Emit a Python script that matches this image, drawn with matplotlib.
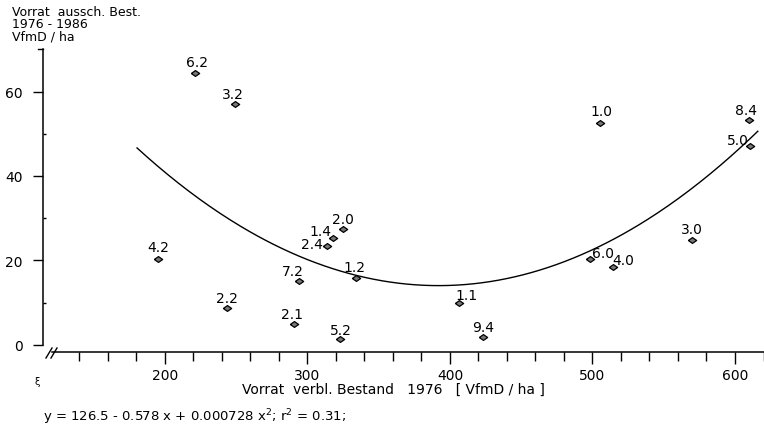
import numpy as np
import matplotlib
matplotlib.use("Agg")
import matplotlib.pyplot as plt
from matplotlib.lines import Line2D

# ---- data ----
labels = ["6.2", "3.2", "4.2", "2.2", "2.1", "5.2", "7.2", "1.2", "2.4", "1.4",
          "2.0", "1.1", "9.4", "1.0", "8.4", "5.0", "3.0", "6.0", "4.0"]
x_vals = [221.1, 249.1, 195.1, 243.5, 290.5, 322.8, 294.0, 334.0, 313.7, 317.9,
          324.9, 406.3, 423.2, 505.3, 609.8, 610.5, 569.8, 498.2, 514.4]
y_vals = [64.4, 57.0, 20.4, 8.8, 5.0, 1.4, 15.1, 15.9, 23.4, 25.3,
          27.5, 9.9, 1.9, 52.5, 53.3, 47.1, 24.9, 20.4, 18.5]
# quadratic curve as drawn (coefficients a, b, c) and its x range
curve_coef = [125.9, -0.5707, 0.000728]
curve_range = [180.4, 616.0]
x_ticks_major = [200, 300, 400, 500, 600]
y_ticks_major = [0, 20, 40, 60]

# ---- label offsets (pixels: dx, dy up) ----
label_offsets = {"6.2": (2, 11), "3.2": (-2, 10), "4.2": (0, 12), "2.2": (0, 10),
                 "2.1": (-2, 10), "5.2": (1, 9), "7.2": (-6, 10), "1.2": (-2, 11),
                 "2.4": (-15, 2), "1.4": (-13, 7), "2.0": (0, 10), "1.1": (8, 8),
                 "9.4": (0, 10), "1.0": (1, 12), "8.4": (-3, 10), "5.0": (-12, 6),
                 "3.0": (0, 11), "6.0": (13, 6), "4.0": (10, 7)}

plt.rcParams["font.family"] = ["DejaVu Sans"]

W, H = 764, 427
fig = plt.figure(figsize=(W / 100, H / 100), dpi=100)

def fx(px):
    return px / W

def fy(py):
    return 1 - py / H

ax_l, ax_r, ax_t, ax_b = 43, 764, 50, 353
ax = fig.add_axes([fx(ax_l), fy(ax_b), (ax_r - ax_l) / W, (ax_b - ax_t) / H])
ax.set_xlim(114.4, 620.35)
ax.set_ylim(-1.66, 70.06)
ax.patch.set_alpha(0)

for s in ["top", "right"]:
    ax.spines[s].set_visible(False)
ax.spines["left"].set_bounds(0, 70)
ax.spines["bottom"].set_bounds(120.7, 620.35)
ax.spines["left"].set_linewidth(1.1)
ax.spines["bottom"].set_linewidth(1.1)

# x ticks
ax.set_xticks(x_ticks_major)
ax.set_xticklabels([str(v) for v in x_ticks_major])
ax.set_xticks(np.arange(140, 621, 20), minor=True)
ax.tick_params(axis="x", which="major", direction="out", length=8.5, width=1, pad=3, labelsize=10)
ax.tick_params(axis="x", which="minor", direction="out", length=6.5, width=1)

# y ticks
ax.set_yticks(y_ticks_major)
ax.set_yticklabels([str(v) for v in y_ticks_major])
ax.set_yticks([10, 30, 50], minor=True)
ax.tick_params(axis="y", which="major", direction="out", length=7.5, width=1, pad=7, labelsize=10)
ax.tick_params(axis="y", which="minor", direction="in", length=2.5, width=1)
# short tick at top of y axis
ax.plot([0, -5.0 / 721], [1.0, 1.0], transform=ax.transAxes, color="black", lw=1, clip_on=False)

# curve
xc = np.linspace(curve_range[0], curve_range[1], 300)
yc = curve_coef[0] + curve_coef[1] * xc + curve_coef[2] * xc ** 2
ax.plot(xc, yc, color="black", lw=1.0)

# markers (flattened diamond)
diamond = [(-1, 0), (0, 0.7), (1, 0), (0, -0.7), (-1, 0)]
ax.plot(x_vals, y_vals, linestyle="none", marker=diamond, markersize=6,
        markerfacecolor="#777777", markeredgecolor="black", markeredgewidth=0.9)

for lab, xv, yv in zip(labels, x_vals, y_vals):
    dx, dy = label_offsets[lab]
    ax.annotate(lab, (xv, yv), xytext=(dx * 0.72, dy * 0.72), textcoords="offset points",
                ha="center", va="center", fontsize=10)

# axis break marks "//"
for x0 in (46, 51):
    fig.add_artist(Line2D([fx(x0), fx(x0 + 6)], [fy(359), fy(349)], color="black", lw=1))

# texts
fig.text(fx(12), fy(13), "Vorrat  aussch. Best.", ha="left", va="center", fontsize=9)
fig.text(fx(12), fy(25), "1976 - 1986", ha="left", va="center", fontsize=9)
fig.text(fx(12), fy(37), "VfmD / ha", ha="left", va="center", fontsize=9)
fig.text(fx(393), fy(390), "Vorrat  verbl. Bestand   1976   [ VfmD / ha ]",
         ha="center", va="center", fontsize=10)
fig.text(fx(43), fy(417), "y = 126.5 - 0.578 x + 0.000728 x$^2$; r$^2$ = 0.31;",
         ha="left", va="center", fontsize=9.5)
fig.text(fx(37), fy(382), "ξ", ha="center", va="center", fontsize=7)

fig.savefig("out.png", dpi=100)
